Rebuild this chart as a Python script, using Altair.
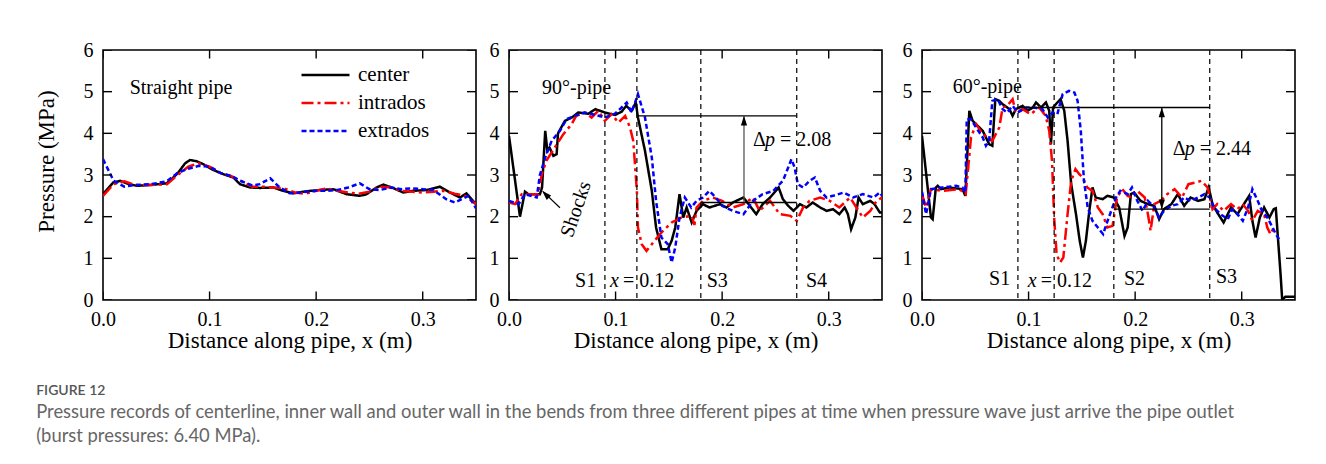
import altair as alt
import pandas as pd

SERIF = "Liberation Serif"
SANS = "Lato"

SERIES = ["center", "intrados", "extrados"]
COLORS = ["#000000", "#ff0000", "#0000ff"]
DASHES = [[1, 0], [12, 4, 3, 4], [5, 3]]

X_DOMAIN = [0.0, 0.35]
Y_DOMAIN = [0, 6]
X_TICKS = [0.0, 0.1, 0.2, 0.3]
Y_TICKS = [0, 1, 2, 3, 4, 5, 6]

# ---------------- Panel 1: straight pipe ----------------
p1_center_x = [0.0, 0.0097, 0.016, 0.0222, 0.0316, 0.0441, 0.0597, 0.0644, 0.0707, 0.077,
               0.0816, 0.0879, 0.0941, 0.1035, 0.1129, 0.1223, 0.1285, 0.138, 0.1473, 0.16,
               0.169, 0.1785, 0.191, 0.2036, 0.216, 0.2286, 0.241, 0.2473, 0.2567, 0.263,
               0.272, 0.2817, 0.291, 0.3036, 0.316, 0.3255, 0.335, 0.341, 0.35]
p1_center_y = [2.54, 2.82, 2.86, 2.80, 2.74, 2.76, 2.80, 2.90, 3.06, 3.28,
               3.36, 3.33, 3.26, 3.12, 3.02, 2.94, 2.78, 2.70, 2.69, 2.70,
               2.62, 2.56, 2.61, 2.64, 2.66, 2.54, 2.50, 2.54, 2.70, 2.77,
               2.69, 2.58, 2.62, 2.64, 2.72, 2.58, 2.46, 2.56, 2.30]
p1_intrados_x = [0.0, 0.01, 0.02, 0.03, 0.045, 0.06, 0.07, 0.08, 0.09, 0.1,
                 0.11, 0.12, 0.13, 0.14, 0.15, 0.16, 0.17, 0.18, 0.19, 0.2,
                 0.21, 0.22, 0.23, 0.24, 0.25, 0.26, 0.27, 0.28, 0.29, 0.3,
                 0.31, 0.32, 0.33, 0.34, 0.35]
p1_intrados_y = [2.50, 2.78, 2.85, 2.76, 2.76, 2.78, 3.00, 3.20, 3.28, 3.20,
                 3.05, 2.98, 2.85, 2.72, 2.72, 2.70, 2.68, 2.58, 2.55, 2.62,
                 2.68, 2.62, 2.58, 2.55, 2.60, 2.72, 2.70, 2.62, 2.60, 2.58,
                 2.60, 2.62, 2.55, 2.50, 2.30]
p1_extrados_x = [0.0, 0.01, 0.02, 0.03, 0.045, 0.06, 0.07, 0.08, 0.09, 0.1,
                 0.11, 0.12, 0.13, 0.14, 0.147, 0.157, 0.165, 0.175, 0.185, 0.2,
                 0.21, 0.22, 0.23, 0.241, 0.25, 0.26, 0.27, 0.28, 0.29, 0.3,
                 0.31, 0.322, 0.33, 0.338, 0.343, 0.35]
p1_extrados_y = [3.38, 2.86, 2.72, 2.76, 2.78, 2.85, 3.05, 3.15, 3.22, 3.20,
                 3.05, 2.98, 2.85, 2.75, 2.78, 2.92, 2.72, 2.56, 2.58, 2.62,
                 2.62, 2.64, 2.70, 2.80, 2.66, 2.64, 2.70, 2.66, 2.68, 2.66,
                 2.64, 2.42, 2.34, 2.44, 2.50, 2.20]

# ---------------- Panel 2: 90 degree pipe ----------------
p2_center_x = [0.0, 0.0103, 0.015, 0.018, 0.029, 0.031, 0.034, 0.036, 0.038, 0.0416,
               0.0447, 0.046, 0.049, 0.0525, 0.059, 0.065, 0.0744, 0.081, 0.09, 0.0994,
               0.1057, 0.11, 0.115, 0.119, 0.121, 0.1276, 0.134, 0.138, 0.143, 0.149,
               0.1526, 0.156, 0.16, 0.1635, 0.1667, 0.1714, 0.176, 0.182, 0.188, 0.198,
               0.204, 0.21, 0.22, 0.226, 0.232, 0.238, 0.245, 0.253, 0.257, 0.262,
               0.267, 0.273, 0.279, 0.285, 0.292, 0.298, 0.304, 0.31, 0.315, 0.318,
               0.321, 0.325, 0.328, 0.332, 0.339, 0.343, 0.348, 0.35]
p2_center_y = [3.94, 2.0, 2.6, 2.54, 2.54, 2.7, 4.06, 3.58, 3.66, 3.46,
               3.5, 4.0, 4.14, 4.3, 4.38, 4.5, 4.47, 4.58, 4.5, 4.44,
               4.52, 4.66, 4.54, 4.74, 4.38, 3.58, 2.62, 1.74, 1.22, 1.22,
               1.42, 1.74, 2.54, 1.98, 2.22, 1.86, 2.14, 2.3, 2.22, 2.3,
               2.22, 2.34, 2.46, 2.26, 2.06, 2.3, 2.46, 2.7, 2.42, 2.26,
               2.14, 2.3, 2.22, 2.34, 2.22, 2.14, 2.18, 2.06, 2.22, 2.06,
               1.7, 1.98, 2.46, 2.3, 2.38, 2.3, 2.1, 2.1]
p2_intrados_x = [0.0, 0.0056, 0.012, 0.0275, 0.0306, 0.035, 0.043, 0.051, 0.0588, 0.063,
                 0.071, 0.0775, 0.0838, 0.09, 0.0963, 0.1026, 0.109, 0.1135, 0.1166, 0.12,
                 0.121, 0.1245, 0.129, 0.134, 0.143, 0.1526, 0.162, 0.1714, 0.174, 0.176,
                 0.182, 0.191, 0.2, 0.21, 0.22, 0.229, 0.235, 0.245, 0.254, 0.264,
                 0.27, 0.276, 0.282, 0.292, 0.301, 0.31, 0.32, 0.326, 0.332, 0.339,
                 0.345, 0.35]
p2_intrados_y = [2.34, 2.3, 2.54, 2.54, 3.0, 3.34, 3.66, 3.98, 4.22, 4.42,
                 4.5, 4.38, 4.54, 4.3, 4.46, 4.26, 4.42, 4.14, 3.82, 2.62,
                 1.74, 1.34, 1.18, 1.34, 1.62, 1.86, 1.98, 2.02, 1.8, 2.22,
                 2.38, 2.46, 2.38, 2.22, 2.3, 2.46, 2.14, 2.38, 2.06, 2.02,
                 1.9, 2.22, 2.38, 2.46, 2.38, 2.22, 2.46, 2.22, 1.98, 2.14,
                 2.38, 2.46]
p2_extrados_x = [0.0, 0.009, 0.015, 0.026, 0.029, 0.034, 0.04, 0.0478, 0.054, 0.062,
                 0.071, 0.081, 0.09, 0.0994, 0.1057, 0.1104, 0.115, 0.121, 0.1276, 0.134,
                 0.138, 0.143, 0.149, 0.1526, 0.156, 0.16, 0.165, 0.171, 0.176, 0.182,
                 0.188, 0.194, 0.2, 0.21, 0.22, 0.229, 0.238, 0.248, 0.257, 0.262,
                 0.265, 0.268, 0.271, 0.276, 0.282, 0.287, 0.292, 0.298, 0.304, 0.314,
                 0.323, 0.332, 0.342, 0.348, 0.35]
p2_extrados_y = [2.38, 2.3, 2.54, 2.46, 3.0, 3.42, 3.82, 4.06, 4.34, 4.42,
                 4.5, 4.44, 4.38, 4.47, 4.62, 4.74, 4.5, 4.94, 4.38, 3.42,
                 2.38, 1.5, 1.34, 0.9, 1.26, 1.98, 2.46, 2.22, 2.38, 2.46,
                 2.62, 2.46, 2.26, 2.14, 2.06, 2.38, 2.54, 2.62, 2.86, 3.18,
                 3.38, 3.18, 2.78, 2.7, 2.86, 2.94, 2.62, 2.46, 2.5, 2.58,
                 2.46, 2.54, 2.46, 2.58, 2.5]

# ---------------- Panel 3: 60 degree pipe ----------------
p3_center_x = [0.0, 0.0084, 0.01, 0.013, 0.0147, 0.0178, 0.0256, 0.038, 0.0407, 0.0444,
               0.0475, 0.057, 0.063, 0.066, 0.0688, 0.0725, 0.0757, 0.082, 0.085, 0.088,
               0.0944, 0.099, 0.104, 0.107, 0.1116, 0.1163, 0.1194, 0.121, 0.123, 0.127,
               0.13, 0.1335, 0.1366, 0.14, 0.1445, 0.148, 0.151, 0.1538, 0.157, 0.16,
               0.163, 0.1695, 0.174, 0.18, 0.185, 0.19, 0.193, 0.196, 0.199, 0.205,
               0.212, 0.218, 0.2225, 0.227, 0.234, 0.24, 0.246, 0.252, 0.259, 0.265,
               0.269, 0.2726, 0.277, 0.283, 0.29, 0.296, 0.302, 0.307, 0.31, 0.313,
               0.317, 0.321, 0.326, 0.33, 0.332, 0.3365, 0.338, 0.341, 0.35]
p3_center_y = [3.94, 1.98, 1.94, 2.7, 2.74, 2.66, 2.7, 2.66, 2.5, 4.54,
               4.3, 4.06, 3.74, 3.7, 4.82, 4.78, 4.7, 4.58, 4.42, 4.58,
               4.66, 4.54, 4.62, 4.74, 4.62, 4.74, 4.54, 3.74, 4.62, 4.74,
               4.82, 4.54, 3.82, 2.78, 2.06, 1.42, 1.02, 1.42, 2.14, 2.7,
               2.46, 2.42, 2.5, 2.46, 2.22, 1.54, 1.74, 2.54, 2.58, 2.38,
               2.3, 2.26, 1.94, 2.18, 2.3, 2.54, 2.26, 2.46, 2.38, 2.42,
               2.7, 2.3, 2.1, 1.86, 2.22, 2.06, 2.3, 2.5, 1.9, 1.5,
               1.98, 2.22, 1.98, 2.18, 2.2, 0.6, 0.0, 0.08, 0.08]
p3_intrados_x = [0.0, 0.0038, 0.0084, 0.019, 0.035, 0.041, 0.046, 0.0507, 0.057, 0.066,
                 0.0725, 0.0757, 0.08, 0.085, 0.088, 0.0944, 0.102, 0.11, 0.116, 0.1194,
                 0.122, 0.124, 0.1263, 0.1295, 0.1326, 0.1366, 0.14, 0.144, 0.1476, 0.1507,
                 0.155, 0.16, 0.165, 0.1695, 0.174, 0.1788, 0.183, 0.188, 0.193, 0.197,
                 0.202, 0.209, 0.212, 0.2145, 0.218, 0.224, 0.23, 0.237, 0.244, 0.25,
                 0.257, 0.262, 0.268, 0.2726, 0.277, 0.283, 0.29, 0.296, 0.301, 0.306,
                 0.31, 0.315, 0.321, 0.324, 0.327, 0.33]
p3_intrados_y = [2.54, 2.22, 2.66, 2.62, 2.66, 2.54, 3.9, 4.22, 3.98, 3.82,
                 4.14, 4.62, 4.66, 4.82, 4.5, 4.58, 4.46, 4.62, 4.42, 4.06,
                 3.34, 1.98, 1.1, 0.9, 1.02, 2.06, 2.86, 3.14, 3.02, 2.94,
                 2.7, 2.62, 2.22, 2.06, 1.74, 1.78, 2.46, 2.66, 2.5, 2.46,
                 2.62, 2.46, 2.06, 1.66, 2.3, 2.38, 2.54, 2.66, 2.46, 2.78,
                 2.82, 2.86, 2.7, 2.18, 2.3, 2.14, 2.3, 2.18, 2.3, 2.14,
                 1.9, 2.14, 2.06, 1.74, 1.58, 1.74]
p3_extrados_x = [0.0, 0.0038, 0.0084, 0.019, 0.032, 0.038, 0.0407, 0.042, 0.046, 0.0507,
                 0.057, 0.06, 0.063, 0.066, 0.071, 0.0757, 0.08, 0.085, 0.09, 0.0976,
                 0.105, 0.113, 0.118, 0.1226, 0.127, 0.132, 0.138, 0.143, 0.146, 0.149,
                 0.152, 0.1555, 0.16, 0.165, 0.17, 0.173, 0.177, 0.182, 0.186, 0.193,
                 0.197, 0.202, 0.207, 0.212, 0.218, 0.2225, 0.227, 0.234, 0.24, 0.246,
                 0.252, 0.259, 0.265, 0.27, 0.274, 0.28, 0.287, 0.291, 0.296, 0.301,
                 0.306, 0.31, 0.315, 0.319, 0.324, 0.329, 0.332, 0.335]
p3_extrados_y = [2.6, 2.06, 2.66, 2.7, 2.74, 2.7, 2.58, 4.34, 4.34, 4.14,
                 3.9, 3.7, 3.82, 4.78, 4.82, 4.58, 4.5, 4.66, 4.5, 4.62,
                 4.62, 4.58, 4.38, 4.5, 4.46, 4.94, 5.02, 4.98, 4.78, 4.06,
                 2.86, 2.22, 1.9, 1.74, 1.58, 1.82, 2.1, 2.46, 2.62, 2.54,
                 2.7, 2.38, 2.14, 2.38, 2.22, 1.98, 2.14, 2.26, 2.3, 2.46,
                 2.38, 2.46, 2.54, 2.46, 2.22, 2.06, 1.94, 2.18, 2.06, 1.9,
                 2.22, 2.66, 2.38, 2.14, 1.98, 1.74, 1.58, 1.46]

# ---------------- Annotations ----------------
p1_label_text = ["Straight pipe"]
p1_label_x = [0.025]
p1_label_y = [5.1]

p2_label_text = ["90°-pipe", "S1", "S3", "S4"]
p2_label_x = [0.031, 0.062, 0.1855, 0.2786]
p2_label_y = [5.1, 0.45, 0.45, 0.45]
p2_sections = [0.09, 0.12, 0.18, 0.27]
p2_xeq_x, p2_xeq_y = [0.0947], [0.45]
p2_dp_text, p2_dp_x, p2_dp_y = ["= 2.08"], [0.2289], [3.83]
p2_level_x = [0.12, 0.18]
p2_level_x2 = [0.27, 0.27]
p2_level_y = [4.42, 2.34]
p2_arrow_x, p2_arrow_y, p2_arrow_y2 = [0.2205], [2.34], [4.42]
p2_head_x, p2_head_y, p2_head_angle = [0.2205, 0.031], [4.42, 2.62], [0, 315]
p2_shock_x, p2_shock_y, p2_shock_x2, p2_shock_y2 = [0.0478], [2.215], [0.032], [2.6]
p2_shock_text_x, p2_shock_text_y = [0.0629], [2.18]

p3_label_text = ["60°-pipe", "S1", "S2", "S3"]
p3_label_x = [0.0288, 0.0629, 0.1895, 0.2758]
p3_label_y = [5.11, 0.5, 0.5, 0.55]
p3_sections = [0.09, 0.124, 0.18, 0.27]
p3_xeq_x, p3_xeq_y = [0.0992], [0.45]
p3_dp_text, p3_dp_x, p3_dp_y = ["= 2.44"], [0.2352], [3.62]
p3_level_x = [0.09, 0.18]
p3_level_x2 = [0.27, 0.27]
p3_level_y = [4.62, 2.18]
p3_arrow_x, p3_arrow_y, p3_arrow_y2 = [0.225], [2.18], [4.62]
p3_head_x, p3_head_y, p3_head_angle = [0.225, 0.225], [4.62, 2.18], [0, 180]

CAPTION_HEAD = "FIGURE 12"
CAPTION_LINES = [
    "Pressure records of centerline, inner wall and outer wall in the bends from three different pipes at time when pressure wave just arrive the pipe outlet",
    "(burst pressures: 6.40 MPa).",
]

# ---------------- Building blocks ----------------
W, H = 373, 250
XS = alt.Scale(domain=X_DOMAIN, nice=False, zero=False)
YS = alt.Scale(domain=Y_DOMAIN, nice=False, zero=False)
ARROW = "M0,0L0.32,1L-0.32,1Z"


def series_df(xs_list, ys_list):
    frames = []
    for name, xs, ys in zip(SERIES, xs_list, ys_list):
        frames.append(pd.DataFrame({"x": xs, "p": ys, "series": name, "k": range(len(xs))}))
    return pd.concat(frames, ignore_index=True)


def X(field="x", axis=alt.Undefined):
    return alt.X(f"{field}:Q", scale=XS, axis=axis)


def Y(field="p", axis=alt.Undefined):
    return alt.Y(f"{field}:Q", scale=YS, axis=axis)


def lines(df, legend, ytitle):
    xaxis = alt.Axis(values=X_TICKS, format=".1f", title="Distance along pipe, x (m)",
                     ticks=False, labelPadding=9, titlePadding=0, labelFlush=False)
    yaxis = alt.Axis(values=Y_TICKS, format="d", title=ytitle if ytitle else None,
                     ticks=False, labelPadding=10, titlePadding=25, titleY=111, labelFlush=False)
    return alt.Chart(df).mark_line(strokeWidth=2.5, clip=True).encode(
        x=X("x", xaxis),
        y=Y("p", yaxis),
        color=alt.Color("series:N", scale=alt.Scale(domain=SERIES, range=COLORS), legend=legend),
        strokeDash=alt.StrokeDash("series:N", scale=alt.Scale(domain=SERIES, range=DASHES), legend=legend),
        order="k:Q",
        detail="series:N",
    )


def inner_ticks():
    """Inward-pointing ticks on all four sides (half of each tick is clipped away)."""
    nx, ny = len(X_TICKS), len(Y_TICKS)
    horiz = pd.DataFrame({"x": X_TICKS + X_TICKS,
                          "p": [Y_DOMAIN[0]] * nx + [Y_DOMAIN[1]] * nx})
    vert = pd.DataFrame({"x": [X_DOMAIN[0]] * ny + [X_DOMAIN[1]] * ny,
                         "p": Y_TICKS + Y_TICKS})
    t1 = alt.Chart(horiz).mark_tick(orient="vertical", size=17, thickness=1.4,
                                    color="black", clip=True, opacity=1).encode(x=X(), y=Y())
    t2 = alt.Chart(vert).mark_tick(orient="horizontal", size=18, thickness=1.4,
                                   color="black", clip=True, opacity=1).encode(x=X(), y=Y())
    return [t1, t2]


def texts(t, xs, ys, style="normal", dx=0, align="left", angle=0, size=20):
    df = pd.DataFrame({"t": t, "x": xs, "p": ys})
    return alt.Chart(df).mark_text(align=align, baseline="middle", font=SERIF, fontSize=size,
                                   fontStyle=style, dx=dx, angle=angle, color="black").encode(
        x=X(), y=Y(), text="t:N")


def vrules(xs):
    df = pd.DataFrame({"x": xs})
    return alt.Chart(df).mark_rule(strokeDash=[5, 4], strokeWidth=1.2, color="black").encode(x=X())


def hrules(xs, x2s, ys):
    df = pd.DataFrame({"x": xs, "x2": x2s, "p": ys})
    return alt.Chart(df).mark_rule(strokeWidth=1.3, color="black").encode(
        x=X(), x2="x2:Q", y=Y())


def arrow_shaft(xs, ys, y2s, color):
    df = pd.DataFrame({"x": xs, "p": ys, "p2": y2s})
    return alt.Chart(df).mark_rule(strokeWidth=1.3, color=color).encode(x=X(), y=Y(), y2="p2:Q")


def heads(xs, ys, angles, color):
    df = pd.DataFrame({"x": xs, "p": ys, "a": angles})
    return alt.Chart(df).mark_point(shape=ARROW, filled=True, size=380, opacity=1,
                                    color=color, strokeWidth=0).encode(
        x=X(), y=Y(), angle=alt.Angle("a:Q", scale=None))


legend1 = alt.Legend(title=None, orient="none", legendX=197, legendY=15, symbolType="stroke",
                     symbolSize=2304, symbolStrokeWidth=2.5, clipHeight=20, rowPadding=7,
                     labelFont=SERIF, labelFontSize=21, labelOffset=7, labelColor="black",
                     padding=0)

df1 = series_df([p1_center_x, p1_intrados_x, p1_extrados_x], [p1_center_y, p1_intrados_y, p1_extrados_y])
df2 = series_df([p2_center_x, p2_intrados_x, p2_extrados_x], [p2_center_y, p2_intrados_y, p2_extrados_y])
df3 = series_df([p3_center_x, p3_intrados_x, p3_extrados_x], [p3_center_y, p3_intrados_y, p3_extrados_y])

panel1 = alt.layer(
    lines(df1, legend1, "Pressure (MPa)"),
    *inner_ticks(),
    texts(p1_label_text, p1_label_x, p1_label_y),
).properties(width=W, height=H)

panel2 = alt.layer(
    lines(df2, None, None),
    vrules(p2_sections),
    hrules(p2_level_x, p2_level_x2, p2_level_y),
    arrow_shaft(p2_arrow_x, p2_arrow_y, p2_arrow_y2, "#555555"),
    alt.Chart(pd.DataFrame({"x": p2_shock_x, "p": p2_shock_y, "x2": p2_shock_x2, "p2": p2_shock_y2}))
    .mark_rule(strokeWidth=1.2, color="black").encode(x=X(), y=Y(), x2="x2:Q", y2="p2:Q"),
    heads(p2_head_x, p2_head_y, p2_head_angle, "black"),
    *inner_ticks(),
    texts(p2_label_text, p2_label_x, p2_label_y),
    texts(["x"], p2_xeq_x, p2_xeq_y, style="italic"),
    texts(["= 0.12"], p2_xeq_x, p2_xeq_y, dx=13),
    texts(["Δ"], p2_dp_x, p2_dp_y),
    texts(["p"], p2_dp_x, p2_dp_y, style="italic", dx=12),
    texts(p2_dp_text, p2_dp_x, p2_dp_y, dx=27),
    texts(["Shocks"], p2_shock_text_x, p2_shock_text_y, align="center", angle=289),
).properties(width=W, height=H)

panel3 = alt.layer(
    lines(df3, None, None),
    vrules(p3_sections),
    hrules(p3_level_x, p3_level_x2, p3_level_y),
    arrow_shaft(p3_arrow_x, p3_arrow_y, p3_arrow_y2, "black"),
    heads(p3_head_x, p3_head_y, p3_head_angle, "black"),
    *inner_ticks(),
    texts(p3_label_text, p3_label_x, p3_label_y),
    texts(["x"], p3_xeq_x, p3_xeq_y, style="italic"),
    texts(["= 0.12"], p3_xeq_x, p3_xeq_y, dx=13),
    texts(["Δ"], p3_dp_x, p3_dp_y),
    texts(["p"], p3_dp_x, p3_dp_y, style="italic", dx=12),
    texts(p3_dp_text, p3_dp_x, p3_dp_y, dx=27),
).properties(width=W, height=H)

inner = alt.hconcat(panel1, panel2, spacing=11).resolve_scale(color="independent", strokeDash="independent")
chart = alt.hconcat(inner, panel3, spacing=18).resolve_scale(color="independent", strokeDash="independent")

chart = chart.properties(
    title=alt.Title(
        text=CAPTION_HEAD, subtitle=CAPTION_LINES, orient="bottom", anchor="start", frame="bounds",
        font=SANS, fontSize=14, fontWeight=600, color="#555555",
        subtitleFont=SANS, subtitleFontSize=18.4, subtitleColor="#666666", subtitleLineHeight=24,
        subtitlePadding=5, offset=31, dx=2,
    ),
    padding={"left": 34, "top": 39, "right": 10, "bottom": 10},
    background="white",
).configure_view(stroke="black", strokeWidth=1.6).configure_axis(
    grid=False, domain=False, labelFont=SERIF, labelFontSize=20, labelColor="black",
    titleFont=SERIF, titleFontSize=23, titleFontWeight="normal", titleColor="black",
)

chart.save("out.html", embed_options={"renderer": "svg", "actions": False})
